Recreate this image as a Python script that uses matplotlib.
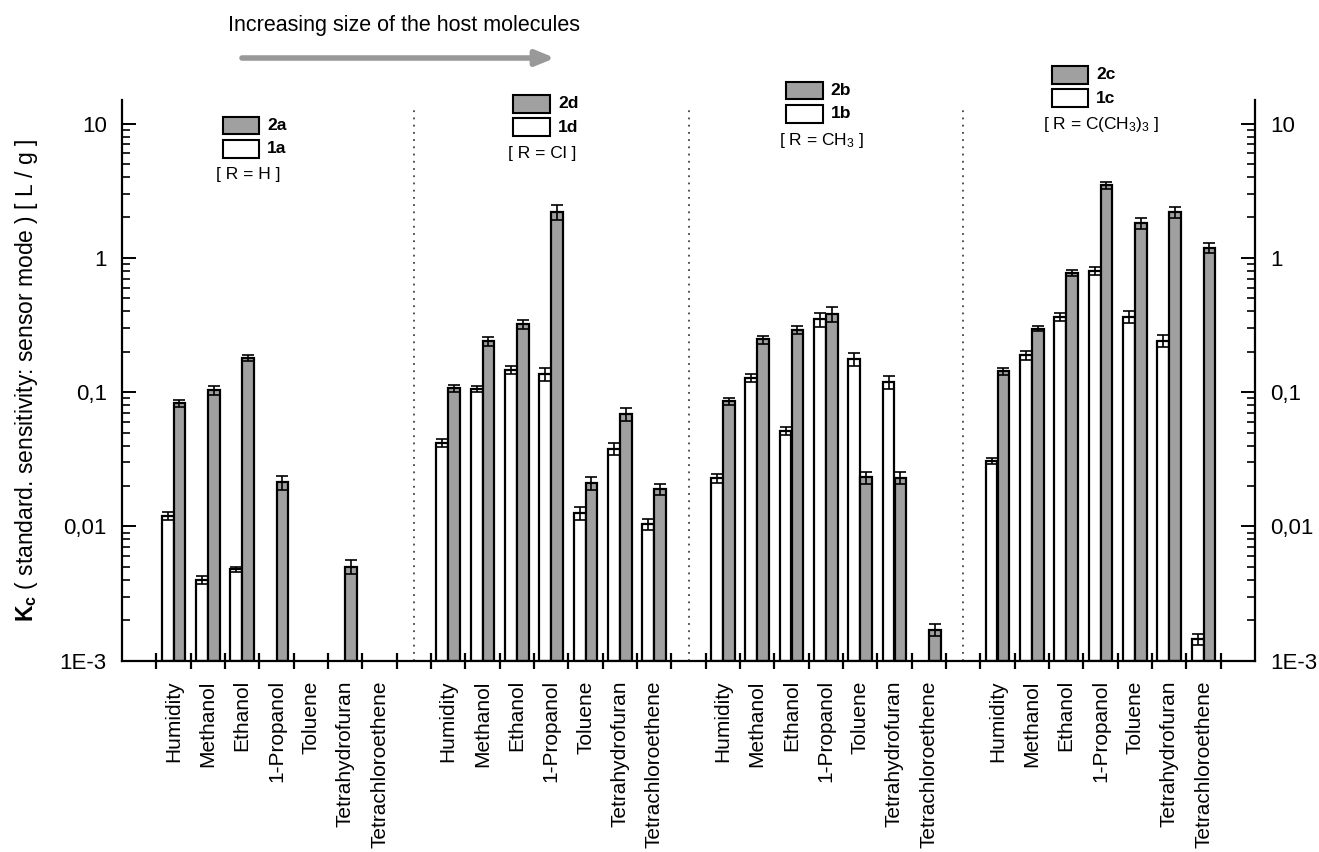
import numpy as np
import matplotlib
matplotlib.use("Agg")
import matplotlib.pyplot as plt
from matplotlib.ticker import FixedLocator, FixedFormatter, NullFormatter
from matplotlib.patches import Rectangle

plt.rcParams['font.family'] = ['Liberation Sans', 'DejaVu Sans']
plt.rcParams['mathtext.fontset'] = 'custom'
plt.rcParams['mathtext.rm'] = 'Liberation Sans'
plt.rcParams['mathtext.bf'] = 'Liberation Sans:bold'
plt.rcParams['mathtext.it'] = 'Liberation Sans:italic'

analytes = ['Humidity', 'Methanol', 'Ethanol', '1-Propanol', 'Toluene',
            'Tetrahydrofuran', 'Tetrachloroethene']
nan = np.nan

# groups from left to right: R = H, Cl, CH3, C(CH3)3
white_names = ['1a', '1d', '1b', '1c']
gray_names = ['2a', '2d', '2b', '2c']
r_labels = ['[ R = H ]', '[ R = Cl ]', '[ R = CH$_3$ ]', '[ R = C(CH$_3$)$_3$ ]']

white_vals = [
    [0.012, 0.0040, 0.0048, nan, nan, nan, nan],
    [0.042, 0.106, 0.146, 0.136, 0.0126, 0.038, 0.0104],
    [0.0228, 0.128, 0.0516, 0.348, 0.1755, 0.119, nan],
    [0.0308, 0.188, 0.364, 0.80, 0.364, 0.2415, 0.00144],
]
white_err = [
    [0.0009, 0.0003, 0.0002, nan, nan, nan, nan],
    [0.003, 0.006, 0.010, 0.015, 0.0014, 0.004, 0.001],
    [0.0016, 0.009, 0.0036, 0.042, 0.019, 0.013, nan],
    [0.0018, 0.014, 0.025, 0.056, 0.039, 0.026, 0.00014],
]
gray_vals = [
    [0.0825, 0.104, 0.181, 0.0213, nan, 0.0050, nan],
    [0.107, 0.240, 0.320, 2.20, 0.0209, 0.069, 0.0189],
    [0.0859, 0.247, 0.290, 0.382, 0.0232, 0.0231, 0.0017],
    [0.1436, 0.2965, 0.774, 3.48, 1.82, 2.19, 1.19],
]
gray_err = [
    [0.005, 0.008, 0.009, 0.0026, nan, 0.0006, nan],
    [0.006, 0.018, 0.022, 0.27, 0.0023, 0.0075, 0.0019],
    [0.005, 0.017, 0.020, 0.047, 0.0024, 0.0025, 0.00018],
    [0.009, 0.012, 0.045, 0.20, 0.17, 0.22, 0.11],
]

ytick_vals = [1e-3, 1e-2, 1e-1, 1, 10]
ytick_text = ['1E-3', '0,01', '0,1', '1', '10']

W, H = 1319, 852
fig = plt.figure(figsize=(W / 100, H / 100), dpi=100)
ax = fig.add_axes([122 / W, 1 - 660.7 / H, 1133 / W, 560.7 / H])

base = 1e-3
gray_c = '#a0a0a0'
bw = 0.34
ncell = 7
start = [1, 9, 17, 25]
centers, labels = [], []
for g in range(4):
    x0 = start[g] + np.arange(ncell)
    wv = np.array(white_vals[g])
    gv = np.array(gray_vals[g])
    xw = x0 + 0.5 - bw / 2
    xg = x0 + 0.5 + bw / 2
    mw = ~np.isnan(wv)
    mg = ~np.isnan(gv)
    ax.bar(xw[mw], wv[mw] - base, bw, bottom=base, color='white',
           edgecolor='black', linewidth=1.6, zorder=2)
    ax.bar(xg[mg], gv[mg] - base, bw, bottom=base, color=gray_c,
           edgecolor='black', linewidth=1.6, zorder=2)
    ax.errorbar(xw[mw], wv[mw], yerr=np.array(white_err[g])[mw], fmt='none',
                ecolor='black', elinewidth=1.2, capsize=4.5, capthick=1.2, zorder=3)
    ax.errorbar(xg[mg], gv[mg], yerr=np.array(gray_err[g])[mg], fmt='none',
                ecolor='black', elinewidth=1.2, capsize=4.5, capthick=1.2, zorder=3)
    centers += list(x0 + 0.5)
    labels += analytes

for xs in [8.5, 16.5, 24.5]:
    ax.axvline(xs, ymax=0.987, color='#444444', lw=1.3, ls=(0, (1, 3)), zorder=1)

ax.set_yscale('log')
ax.set_ylim(base, 15)
ax.set_xlim(0, 33)

ax.yaxis.set_major_locator(FixedLocator(ytick_vals))
ax.yaxis.set_major_formatter(FixedFormatter(ytick_text))
minors = [m * 10.0 ** e for e in range(-3, 2) for m in range(2, 10)]
ax.yaxis.set_minor_locator(FixedLocator(minors))
ax.yaxis.set_minor_formatter(NullFormatter())
ax.tick_params(axis='y', which='major', direction='in', length=10, width=1.4,
               left=True, right=True, labelleft=True, labelright=True,
               labelsize=16, pad=11)
ax.tick_params(axis='y', which='minor', direction='in', length=6, width=1.2,
               left=True, right=True)

ax.xaxis.set_major_locator(FixedLocator(np.arange(1, 33)))
ax.xaxis.set_major_formatter(NullFormatter())
ax.xaxis.set_minor_locator(FixedLocator(centers))
ax.xaxis.set_minor_formatter(FixedFormatter(labels))
ax.tick_params(axis='x', which='major', direction='inout', length=12, width=1.6)
ax.tick_params(axis='x', which='minor', length=0, labelsize=15,
               labelrotation=90, pad=14)

ax.spines['top'].set_visible(False)
for s in ['left', 'right', 'bottom']:
    ax.spines[s].set_linewidth(1.6)

ax.set_ylabel(r'$\mathbf{K}_{\mathbf{c}}$ ( standard. sensitivity: sensor mode ) [ L / g ]',
              fontsize=16.5)
ax.yaxis.set_label_coords(-0.072, 0.5)

# legend boxes for each group, placed in pixel positions of the figure
def fx(px):
    return px / W

def fy(py):
    return 1 - py / H

leg_pos = [(222.7, 116.7, 248, 174), (513.3, 95, 541.7, 153.3),
           (786, 81.7, 821.7, 140), (1051.7, 66, 1101.7, 125)]
bwid, bhgt, gap = 36.6, 17.6, 5.8
for g in range(4):
    lx, ly, rx, ry = leg_pos[g]
    for k, (col, name) in enumerate([(gray_c, gray_names[g]), ('white', white_names[g])]):
        top = ly + k * (bhgt + gap)
        fig.patches.append(Rectangle((fx(lx), fy(top + bhgt)), bwid / W, bhgt / H,
                                     transform=fig.transFigure, facecolor=col,
                                     edgecolor='black', linewidth=1.5))
        fig.text(fx(lx + bwid + 8), fy(top + bhgt / 2), name, fontsize=12.5,
                 fontweight='bold', va='center', ha='left')
    fig.text(fx(rx), fy(ry), r_labels[g], fontsize=12.5, va='center', ha='center')

fig.text(fx(404), fy(26), 'Increasing size of the host molecules', fontsize=15.5,
         ha='center', va='center')
ax.annotate('', xy=(fx(555), fy(58)), xytext=(fx(242), fy(58)),
            xycoords='figure fraction', textcoords='figure fraction',
            arrowprops=dict(arrowstyle='-|>,head_length=1.1,head_width=0.45',
                            color='#999999', lw=4, shrinkA=0, shrinkB=0),
            annotation_clip=False)

fig.savefig('out.png', dpi=100)
